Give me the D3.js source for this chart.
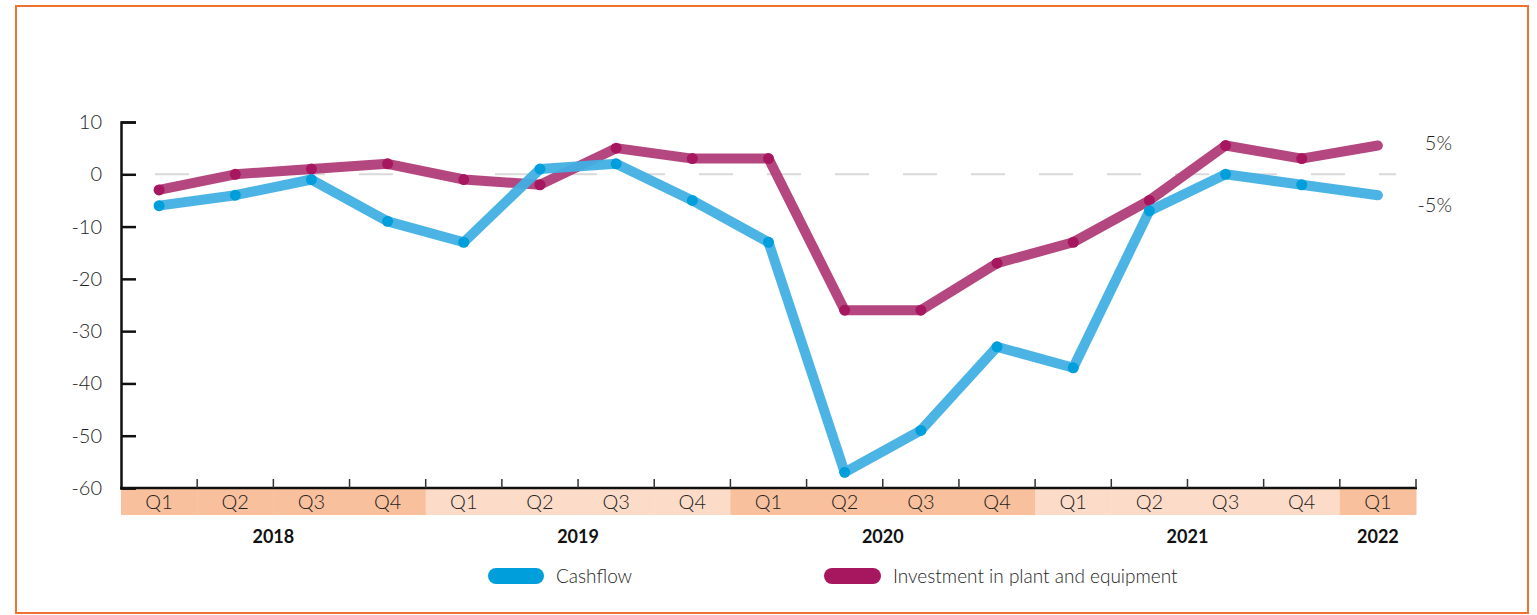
<!DOCTYPE html>
<html>
<head>
<meta charset="utf-8">
<script src="https://cdn.jsdelivr.net/npm/d3@7"></script>
<style>
    html, body { margin: 0; padding: 0; background: #fff; }
    #chart { width: 1537px; height: 615px; }
    text { font-family: Lato, "Open Sans", sans-serif; }
</style>
</head>
<body>
<div id="chart"></div>
<script>
// data
const quarters = ["Q1", "Q2", "Q3", "Q4", "Q1", "Q2", "Q3", "Q4", "Q1", "Q2", "Q3", "Q4", "Q1", "Q2", "Q3", "Q4", "Q1"];
const years = ["2018", "2019", "2020", "2021", "2022"];
const quartersPerYear = [4, 4, 4, 4, 1];
const cashflow = [-6, -4, -1, -9, -13, 1, 2, -5, -13, -57, -49, -33, -37, -7, 0, -2, -4];
const investment = [-3, 0, 1, 2, -1, -2, 5, 3, 3, -26, -26, -17, -13, -5, 5.5, 3, 5.5];
const yTicks = [10, 0, -10, -20, -30, -40, -50, -60];
const endLabels = ["5%", "-5%"];
const seriesNames = ["Cashflow", "Investment in plant and equipment"];

document.addEventListener('DOMContentLoaded', function () {
    const width = 1537, height = 615;
    const textColor = "#1e1e1e";
    const svg = d3.select("#chart").append("svg")
        .attr("width", width)
        .attr("height", height);

    // orange frame
    svg.append("rect")
        .attr("x", 16).attr("y", 6)
        .attr("width", 1512).attr("height", 607)
        .attr("fill", "none")
        .attr("stroke", "#F07232")
        .attr("stroke-width", 2);

    const left = 121, right = 1416, top = 122, bottom = 488;

    // one band per quarter
    const idx = d3.range(quarters.length);
    const x = d3.scaleBand().domain(idx).range([left, right]);
    const y = d3.scaleLinear().domain([-60, 10]).range([bottom, top]);

    // year of each quarter, for the band colours
    const yearOf = [];
    quartersPerYear.forEach((n, i) => { for (let k = 0; k < n; k++) yearOf.push(i); });

    // coloured quarter bands under the axis
    svg.append("g").selectAll("rect")
        .data(idx)
        .enter().append("rect")
        .attr("x", d => x(d))
        .attr("y", bottom)
        .attr("width", x.bandwidth() + 0.5)
        .attr("height", 27)
        .attr("fill", d => yearOf[d] % 2 === 0 ? "#F8C09D" : "#FCDCC8");

    svg.append("g").selectAll("text")
        .data(idx)
        .enter().append("text")
        .attr("x", d => x(d) + x.bandwidth() / 2)
        .attr("y", bottom + 21)
        .attr("text-anchor", "middle")
        .attr("font-size", 20)
        .attr("font-weight", 300)
        .attr("fill", textColor)
        .text(d => quarters[d]);

    // year labels centred under their quarters
    let start = 0;
    years.forEach((yr, i) => {
        const n = quartersPerYear[i];
        const cx = x(start) + n * x.bandwidth() / 2;
        svg.append("text")
            .attr("x", cx)
            .attr("y", 543)
            .attr("text-anchor", "middle")
            .attr("font-size", 18)
            .attr("font-weight", "bold")
            .attr("fill", "#111")
            .text(yr);
        start += n;
    });

    // dashed zero line
    svg.append("line")
        .attr("x1", x(0) + 34).attr("x2", x(quarters.length - 1) + x.bandwidth() / 2 + 18)
        .attr("y1", y(0)).attr("y2", y(0))
        .attr("stroke", "#d9d9d9")
        .attr("stroke-width", 2)
        .attr("stroke-dasharray", "34,34");

    // y axis
    const yAxis = svg.append("g")
        .attr("transform", `translate(${left},0)`)
        .call(d3.axisRight(y).tickValues(yTicks).tickSize(15).tickFormat(""));
    yAxis.select(".domain").attr("stroke", "#111").attr("stroke-width", 2.5);
    yAxis.selectAll(".tick line").attr("stroke", "#111").attr("stroke-width", 2.5);

    svg.append("g").selectAll("text")
        .data(yTicks)
        .enter().append("text")
        .attr("x", 102)
        .attr("y", d => y(d) + 7)
        .attr("text-anchor", "end")
        .attr("font-size", 20)
        .attr("font-weight", 300)
        .attr("fill", textColor)
        .text(d => d);

    // x axis line with ticks between quarters
    svg.append("line")
        .attr("x1", left - 1).attr("x2", right + 1)
        .attr("y1", bottom).attr("y2", bottom)
        .attr("stroke", "#111")
        .attr("stroke-width", 2.5);
    svg.append("g").selectAll("line")
        .data(d3.range(1, quarters.length + 1))
        .enter().append("line")
        .attr("x1", d => d < quarters.length ? x(d) : right)
        .attr("x2", d => d < quarters.length ? x(d) : right)
        .attr("y1", bottom).attr("y2", bottom - 9)
        .attr("stroke", "#333")
        .attr("stroke-width", 1.5);

    // the two series
    const series = [
        { name: seriesNames[1], values: investment, line: "#B03D78", dot: "#A6175F" },
        { name: seriesNames[0], values: cashflow, line: "#41B0E4", dot: "#009FDC" }
    ];
    const line = d3.line()
        .x((d, i) => x(i) + x.bandwidth() / 2)
        .y(d => y(d));

    series.forEach(s => {
        svg.append("path")
            .datum(s.values)
            .attr("d", line)
            .attr("fill", "none")
            .attr("stroke", s.line)
            .attr("stroke-width", 10)
            .attr("stroke-linecap", "round")
            .attr("stroke-linejoin", "round")
            .attr("opacity", 0.95);
        svg.append("g").selectAll("circle")
            .data(s.values.slice(0, -1))
            .enter().append("circle")
            .attr("cx", (d, i) => x(i) + x.bandwidth() / 2)
            .attr("cy", d => y(d))
            .attr("r", 5.5)
            .attr("fill", s.dot);
    });

    // labels at the right end
    svg.append("text")
        .attr("x", 1452).attr("y", 150)
        .attr("text-anchor", "end")
        .attr("font-size", 20)
        .attr("font-weight", 300)
        .attr("fill", textColor)
        .text(endLabels[0]);
    svg.append("text")
        .attr("x", 1452).attr("y", 212)
        .attr("text-anchor", "end")
        .attr("font-size", 20)
        .attr("font-weight", 300)
        .attr("fill", textColor)
        .text(endLabels[1]);

    // legend
    const legend = [
        { name: seriesNames[0], color: "#009FDC", x: 488, w: 56 },
        { name: seriesNames[1], color: "#A6175F", x: 824, w: 57 }
    ];
    legend.forEach(l => {
        svg.append("rect")
            .attr("x", l.x).attr("y", 568)
            .attr("width", l.w).attr("height", 16)
            .attr("rx", 8)
            .attr("fill", l.color);
        svg.append("text")
            .attr("x", l.x + l.w + 12)
            .attr("y", 583)
            .attr("font-size", 19)
            .attr("font-weight", 300)
            .attr("fill", textColor)
            .text(l.name);
    });
});
</script>
</body>
</html>
